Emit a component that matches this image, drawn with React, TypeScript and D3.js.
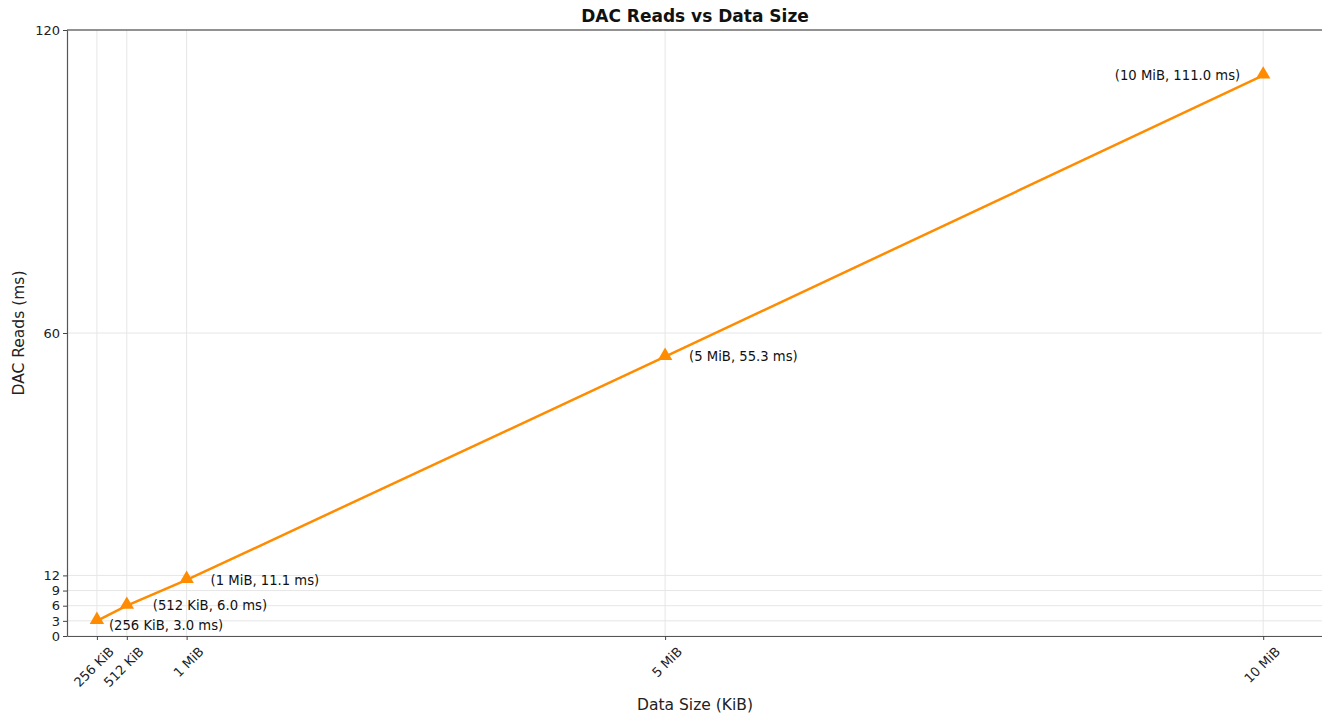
import { useEffect, useRef } from 'react';
import * as d3 from 'd3';

const sizesKiB = [256, 512, 1024, 5120, 10240];
const sizeLabels = ['256 KiB', '512 KiB', '1 MiB', '5 MiB', '10 MiB'];
const readsMs = [3.0, 6.0, 11.1, 55.3, 111.0];
const yTicks = [0, 3, 6, 9, 12, 60, 120];
const annDx = [12, 26, 24, 24, -23];

const W = 1322;
const H = 715;

export default function App() {
  const svgRef = useRef<SVGSVGElement>(null);

  useEffect(() => {
    if (!svgRef.current) return;
    const svg = d3.select(svgRef.current);
    svg.selectAll('*').remove();

    const margin = { top: 30, right: -1, bottom: 79, left: 67 };
    const innerW = W - margin.left - margin.right;
    const innerH = H - margin.top - margin.bottom;
    const font = 'DejaVu Sans, sans-serif';

    const g = svg.append('g').attr('transform', `translate(${margin.left},${margin.top})`);
    const x = d3.scaleLinear([0, 10752], [0, innerW]);
    const y = d3.scaleLinear([0, 120], [innerH, 0]);

    // grid
    g.selectAll('.gy').data(yTicks).join('line')
      .attr('x1', 0).attr('x2', innerW)
      .attr('y1', d => y(d)).attr('y2', d => y(d))
      .attr('stroke', '#e6e6e6').attr('stroke-width', 1);
    g.selectAll('.gx').data(sizesKiB).join('line')
      .attr('x1', d => x(d)).attr('x2', d => x(d))
      .attr('y1', 0).attr('y2', innerH)
      .attr('stroke', '#e6e6e6').attr('stroke-width', 1);

    // axes
    const xAxis = g.append('g').attr('transform', `translate(0,${innerH})`)
      .call(d3.axisBottom(x).tickValues(sizesKiB).tickFormat((_, i) => sizeLabels[i]).tickSize(4).tickSizeOuter(0));
    xAxis.selectAll('text')
      .attr('font-family', font).attr('font-size', 13).attr('fill', '#222')
      .attr('text-anchor', 'end')
      .attr('transform', 'translate(6,5) rotate(-45)')
      .attr('dy', '0.7em').attr('dx', '0');
    const yAxis = g.append('g')
      .call(d3.axisLeft(y).tickValues(yTicks).tickSize(4).tickSizeOuter(0));
    yAxis.selectAll('text').attr('font-family', font).attr('font-size', 13).attr('fill', '#222');
    g.selectAll('.domain').attr('stroke', '#555').attr('stroke-width', 1.2);
    g.selectAll('.tick line').attr('stroke', '#444');

    g.append('line').attr('x1', 0).attr('x2', innerW).attr('y1', 0).attr('y2', 0)
      .attr('stroke', '#333').attr('stroke-width', 1.2);

    // line + markers
    const pts = sizesKiB.map((s, i) => ({ s, v: readsMs[i] }));
    const line = d3.line<{ s: number; v: number }>().x(d => x(d.s)).y(d => y(d.v));
    g.append('path').datum(pts).attr('d', line)
      .attr('fill', 'none').attr('stroke', '#ff8c00').attr('stroke-width', 2.5);
    const tri = d3.symbol().type(d3.symbolTriangle).size(90);
    g.selectAll('.pt').data(pts).join('path')
      .attr('d', tri)
      .attr('transform', d => `translate(${x(d.s)},${y(d.v) - 1})`)
      .attr('fill', '#ff8c00');

    // annotations
    g.selectAll('.ann').data(pts).join('text')
      .attr('x', (d, i) => x(d.s) + annDx[i])
      .attr('y', (d, i) => y(d.v) + (i === 0 ? 5 : 0))
      .attr('dy', '0.35em')
      .attr('text-anchor', (_, i) => (annDx[i] < 0 ? 'end' : 'start'))
      .attr('font-family', font).attr('font-size', 13.2).attr('fill', '#111')
      .text((d, i) => `(${sizeLabels[i]}, ${d.v.toFixed(1)} ms)`);

    // labels
    svg.append('text').attr('x', margin.left + innerW / 2).attr('y', 22)
      .attr('text-anchor', 'middle').attr('font-family', font).attr('font-weight', 'bold')
      .attr('font-size', 17).attr('fill', '#111').text('DAC Reads vs Data Size');
    svg.append('text').attr('x', margin.left + innerW / 2).attr('y', 710)
      .attr('text-anchor', 'middle').attr('font-family', font)
      .attr('font-size', 15.5).attr('fill', '#222').text('Data Size (KiB)');
    svg.append('text').attr('transform', 'rotate(-90)')
      .attr('x', -(margin.top + innerH / 2)).attr('y', 24)
      .attr('text-anchor', 'middle').attr('font-family', font)
      .attr('font-size', 15.5).attr('fill', '#222').text('DAC Reads (ms)');
  }, []);

  return (
    <svg ref={svgRef} width={W} height={H}
      style={{ position: 'absolute', left: 0, top: 0, background: '#fff' }} />
  );
}
